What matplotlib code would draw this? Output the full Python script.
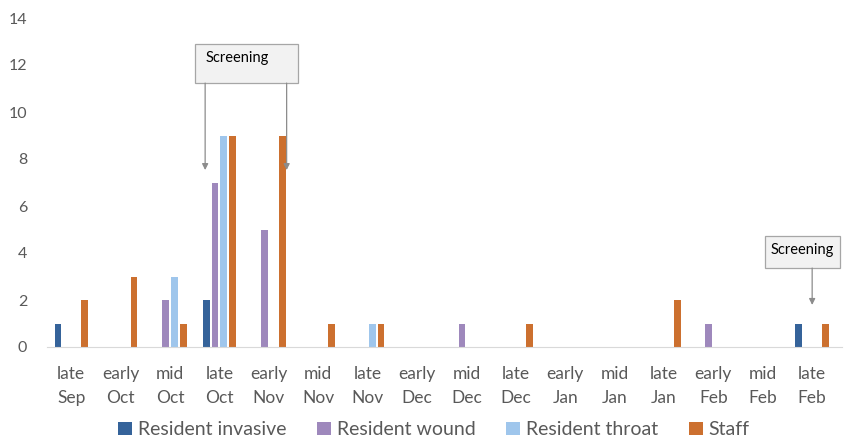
import numpy as np
import matplotlib.pyplot as plt
from matplotlib.patches import Rectangle

plt.rcParams['font.family'] = ['Lato', 'DejaVu Sans']

# ---- data ----
periods = ["late\nSep", "early\nOct", "mid\nOct", "late\nOct", "early\nNov", "mid\nNov",
           "late\nNov", "early\nDec", "mid\nDec", "late\nDec", "early\nJan", "mid\nJan",
           "late\nJan", "early\nFeb", "mid\nFeb", "late\nFeb"]
resident_invasive = [1, 0, 0, 2, 0, 0, 0, 0, 0, 0, 0, 0, 0, 0, 0, 1]
resident_wound    = [0, 0, 2, 7, 5, 0, 0, 0, 1, 0, 0, 0, 0, 1, 0, 0]
resident_throat   = [0, 0, 3, 9, 0, 0, 1, 0, 0, 0, 0, 0, 0, 0, 0, 0]
staff             = [2, 3, 1, 9, 9, 1, 1, 0, 0, 1, 0, 0, 2, 0, 0, 1]

series_names = ["Resident invasive", "Resident wound", "Resident throat", "Staff"]
series_colors = ["#35639A", "#9E88BC", "#9FC6EC", "#CC702F"]

fig = plt.figure(figsize=(8.49, 4.41), dpi=100)
ax = fig.add_axes([46.6 / 849, 94 / 441, (841.8 - 46.6) / 849, (423 - 94) / 441])

x = np.arange(len(periods))
slot = 0.18
width = 0.14
for i, (vals, name, col) in enumerate(zip(
        [resident_invasive, resident_wound, resident_throat, staff], series_names, series_colors)):
    ax.bar(x + (i - 1.5) * slot, vals, width=width, color=col, label=name, zorder=2)

ax.set_xlim(-0.5, 15.6)
ax.set_ylim(0, 14)
ax.set_yticks(range(0, 15, 2))
ax.set_xticks(x)
ax.set_xticklabels(periods, fontsize=12.5, color="#595959", linespacing=1.55)
ax.tick_params(axis='y', labelsize=11.5, colors="#595959", length=0, pad=14)
ax.tick_params(axis='x', length=0, pad=14)
for s in ["top", "right", "left"]:
    ax.spines[s].set_visible(False)
ax.spines["bottom"].set_color("#D9D9D9")

leg = ax.legend(loc="center", bbox_to_anchor=(0.487, -0.252), ncol=4, frameon=False,
                fontsize=14, handlelength=0.7, handleheight=0.7, handletextpad=0.3,
                columnspacing=1.6)
for t in leg.get_texts():
    t.set_color("#595959")

# ---- screening callouts ----
def callout(x0, x1, y0, y1, label, targets, text_x=None):
    ax.add_patch(Rectangle((x0, y0), x1 - x0, y1 - y0, facecolor="#F2F2F2",
                           edgecolor="#A6A6A6", lw=0.9, clip_on=False, zorder=4))
    if text_x is None:
        ax.text((x0 + x1) / 2, y1 - 0.6, label, ha="center", va="center",
                fontsize=10.5, color="#000000", zorder=5)
    else:
        ax.text(text_x, y1 - 0.6, label, ha="left", va="center",
                fontsize=10.5, color="#000000", zorder=5)
    for tx, ty in targets:
        ax.annotate("", xy=(tx, ty), xytext=(tx, y0),
                    arrowprops=dict(arrowstyle="-|>", color="#8C8C8C", lw=0.9,
                                    mutation_scale=9, shrinkA=0, shrinkB=0),
                    zorder=5, annotation_clip=False)

callout(2.5, 4.58, 11.23, 12.9, "Screening", [(2.71, 7.53), (4.36, 7.53)], text_x=2.72)
callout(14.05, 15.56, 3.36, 4.72, "Screening", [(15.0, 1.79)])

fig.savefig("out.png", dpi=100)
